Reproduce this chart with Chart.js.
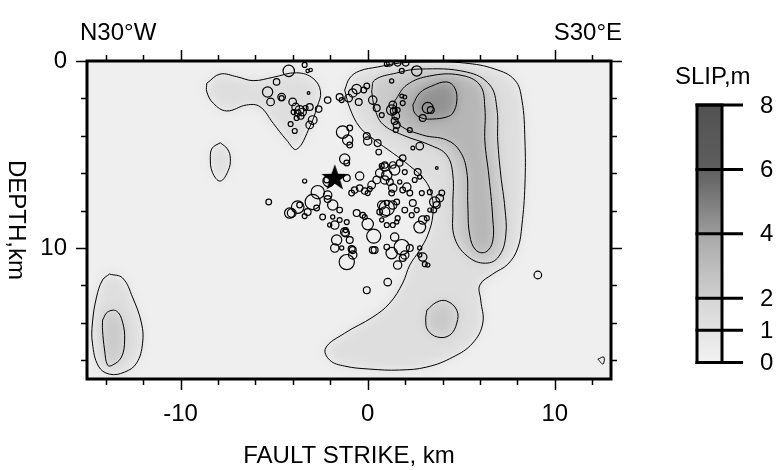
<!DOCTYPE html>
<html>
<head>
<meta charset="utf-8">
<script src="https://cdn.jsdelivr.net/npm/chart.js@4.4.1/dist/chart.umd.min.js"></script>
<style>
  html, body { margin: 0; padding: 0; background: #fff; }
  #wrap { width: 776px; height: 470px; }
</style>
</head>
<body>
<div id="wrap"><canvas id="slipChart" width="776" height="470"></canvas></div>
<script>
// =============================================
// Slip model + aftershocks along the fault plane
// =============================================

// axis ticks (km)
const xTicks = [-14, -12, -10, -8, -6, -4, -2, 0, 2, 4, 6, 8, 10, 12];
const xMajor = [-10, 0, 10];
const yTicks = [0, 2, 4, 6, 8, 10, 12, 14, 16];
const yMajor = [0, 10];

// colour bar (slip, m) and grey of each band at its low / high end
const cbTicks = [0, 1, 2, 4, 6, 8];
const cbLow = [242, 226, 208, 155, 94];
const cbHigh = [228, 214, 168, 96, 82];
const bgSlip = 0.2;

// slip contours: along strike (km), depth (km); level in m
const a1x = [-8.60, -7.89, -7.00, -6.12, -5.05, -3.80, -2.92, -2.52, -2.70, -3.09, -3.80, -4.34, -5.05, -5.76, -6.47, -7.54, -8.25, -8.60];
const a1z = [1.19, 0.70, 0.84, 1.05, 0.87, 0.63, 0.93, 1.64, 2.44, 3.51, 4.72, 4.22, 3.33, 2.44, 2.35, 2.67, 2.26, 1.64];

const b1x = [-7.88, -7.50, -7.34, -7.45, -7.88, -8.30, -8.41, -8.30];
const b1z = [4.37, 4.70, 5.20, 5.85, 6.42, 5.95, 5.12, 4.65];

const m1x = [-1.23, -0.96, -0.43, 0.53, 1.71, 3.32, 5.19, 6.79, 7.86, 8.24, 8.40, 8.40, 8.24, 8.02, 7.49, 6.68, 5.99, 6.04, 6.15, 5.61, 4.55, 3.16, 1.71, 0.11, -1.23, -2.03, -2.25, -1.23, 0.27, 1.18, 1.87, 2.25, 2.78, 3.21, 3.48, 3.42, 3.05, 2.25, 1.34, 0.37, -0.43, -0.96];
const m1z = [1.55, 0.91, 0.53, 0.32, 0.11, 0.05, 0.11, 0.43, 1.02, 2.09, 4.22, 6.63, 8.77, 10.00, 10.86, 11.39, 11.98, 12.78, 14.01, 15.08, 15.83, 16.36, 16.52, 16.47, 16.31, 15.99, 15.35, 14.55, 13.69, 12.94, 11.87, 10.91, 10.11, 9.30, 8.24, 7.17, 6.36, 5.61, 4.92, 4.22, 3.53, 2.51];

const m2x = [0.21, 0.37, 1.55, 2.78, 5.29, 6.52, 6.90, 6.95, 7.11, 7.33, 7.38, 7.06, 6.42, 5.45, 4.65, 4.55, 4.55, 4.22, 3.32, 1.87, 0.80, 0.37];
const m2z = [1.60, 1.02, 0.64, 0.43, 0.59, 1.28, 2.51, 4.28, 6.10, 7.86, 9.30, 10.37, 10.80, 10.53, 9.47, 7.86, 6.10, 5.03, 4.49, 3.96, 3.37, 2.51];

const m3x = [1.44, 2.09, 3.32, 4.92, 5.99, 6.26, 6.26, 6.47, 6.68, 6.68, 6.31, 5.78, 5.45, 5.35, 5.29, 4.92, 4.22, 2.94, 1.71, 1.34];
const m3z = [2.14, 1.28, 0.80, 0.75, 1.28, 2.51, 4.28, 6.10, 8.40, 9.63, 10.21, 10.11, 9.30, 7.70, 5.88, 4.81, 4.22, 3.96, 3.42, 2.67];

const m4x = [2.41, 2.78, 3.42, 4.22, 4.65, 4.76, 4.55, 4.22, 3.48, 2.89, 2.51];
const m4z = [2.35, 1.71, 1.34, 1.12, 1.44, 2.14, 2.78, 2.99, 3.10, 3.05, 2.78];

const c2x = [3.16, 3.69, 4.22, 4.76, 4.76, 4.39, 3.74, 3.21, 3.10];
const c2z = [13.32, 12.89, 12.83, 13.32, 14.01, 14.65, 14.76, 14.39, 13.85];

const d1x = [-13.80, -13.10, -12.57, -12.09, -12.03, -12.35, -12.99, -13.80, -14.39, -14.71, -14.71, -14.49, -14.17];
const d1z = [11.39, 11.60, 12.62, 14.01, 15.08, 16.15, 16.63, 16.74, 16.31, 15.08, 14.01, 12.62, 11.71];

const d2x = [-14.17, -13.90, -13.42, -13.10, -12.99, -13.16, -13.64, -13.90, -14.06, -14.17];
const d2z = [13.85, 13.42, 13.37, 13.96, 14.92, 15.83, 16.26, 16.26, 15.45, 14.39];

const f1x = [12.30, 12.62, 12.57];
const f1z = [15.94, 15.83, 16.20];

// mainshock
const mainX = [-1.76];
const mainZ = [6.20];

// aftershocks: along strike (km), depth (km), magnitude
const eqX = [
  -4.22, -3.37, -3.21, -3.05, -4.87, -5.35, -5.19, -4.60, -4.60, -4.01,
  -3.16, -3.85, -3.64, -3.74, -3.48, -3.96, -3.58, -3.32, -3.80, -3.10,
  -2.62, -2.94, -3.10, -4.12, -3.90, -2.14, -1.50, -1.39, -1.02, -0.80,
  -0.59, -0.21, -0.05, -0.48, 0.27, 0.48, 0.75, -1.34, -0.96, -1.07,
  -0.96, -0.05, 0.00, 0.53, 0.59, -1.23, -1.12, 1.02, 1.18, 1.60,
  2.03, 1.82, 2.62, 1.28, 1.34, 1.39, 1.60, 1.87, 1.82, 1.98,
  1.50, 1.44, 1.55, 1.50, 2.25, 3.21, 3.37, 2.94, 2.78, 2.41,
  1.87, 1.71, 1.34, 0.91, 0.75, 1.28, -0.43, -1.12, -3.37, -2.19,
  -2.09, -2.67, -2.94, -2.14, -2.14, -1.87, -1.50, -3.21, -3.74, -4.06,
  -3.64, -2.73, -3.37, -2.41, -1.87, -1.50, -1.12, -1.76, -2.03, -1.23,
  -0.96, -1.66, -1.76, -1.39, -0.86, -0.80, -0.59, -0.86, -0.70, -0.43,
  -0.16, 0.11, 0.21, 0.00, 0.00, -0.16, 0.32, 0.27, 0.75, 0.64,
  1.02, 0.48, 0.64, 0.91, 0.91, 1.44, 1.02, 1.18, 1.98, 2.67,
  2.78, 3.69, 2.51, 1.71, 2.09, 1.87, 1.34, 1.28, 2.25, 2.89,
  3.32, 3.96, 3.85, 3.58, 3.69, 3.53, 3.32, 1.02, 0.91, 1.34,
  1.55, 2.41, 2.62, 1.98, 2.35, 1.60, 1.02, 1.34, 1.55, 0.75,
  2.94, 3.16, 2.78, 1.44, 2.78, 1.28, 1.98, 1.87, 1.02, 2.94,
  1.60, 3.21, 1.82, 2.25, -1.12, -0.80, 1.07, -0.05, 9.09, -5.29,
  -4.17, -1.18, 0.37, -1.18, -0.27, 3.05, 2.78
];
const eqZ = [
  0.53, 0.21, 0.53, 0.48, 1.12, 1.66, 2.19, 1.93, 1.98, 2.19,
  1.71, 2.46, 2.62, 2.78, 2.73, 2.73, 2.94, 2.51, 3.05, 2.46,
  2.57, 3.16, 3.42, 3.37, 3.74, 2.09, 1.93, 2.09, 1.98, 1.71,
  1.50, 1.55, 1.34, 2.19, 2.09, 2.51, 2.89, 3.80, 3.58, 4.22,
  4.49, 4.01, 4.28, 4.39, 4.87, 5.24, 5.45, 0.16, 0.10, 0.10,
  0.10, 0.53, 0.53, 1.07, 2.35, 2.67, 2.62, 2.25, 1.87, 1.93,
  2.94, 3.21, 3.42, 3.69, 3.69, 2.51, 2.62, 3.05, 4.55, 4.65,
  5.19, 5.45, 5.56, 5.56, 5.61, 2.62, 6.15, 6.26, 6.42, 6.36,
  6.42, 7.01, 7.54, 7.17, 7.38, 7.70, 7.97, 8.07, 7.81, 8.13,
  7.70, 7.86, 8.29, 8.34, 8.34, 8.50, 8.61, 8.77, 8.77, 9.14,
  9.57, 9.57, 10.00, 10.00, 10.05, 10.37, 8.13, 7.06, 6.90, 6.79,
  6.95, 6.84, 6.63, 7.06, 8.72, 8.34, 9.36, 10.11, 7.70, 8.07,
  7.59, 6.36, 5.99, 5.67, 6.36, 5.83, 6.10, 6.47, 5.94, 5.94,
  6.20, 5.72, 6.36, 6.47, 6.74, 6.90, 6.79, 7.06, 7.06, 7.06,
  7.01, 7.06, 7.33, 7.54, 7.70, 7.97, 7.97, 7.86, 8.07, 7.70,
  7.54, 7.59, 7.97, 7.97, 8.24, 8.40, 8.77, 8.77, 8.61, 8.50,
  8.50, 8.40, 8.88, 9.41, 10.00, 10.27, 10.37, 10.53, 9.95, 10.48,
  10.91, 10.91, 9.95, 10.00, 10.75, 10.11, 11.82, 12.25, 11.44, 7.54,
  8.13, 9.20, 10.11, 9.04, 8.24, 10.86, 10.37
];
const eqMag = [
  3.0, 1.3, 0.9, 0.9, 1.7, 2.7, 2.0, 2.0, 1.3, 2.0,
  0.7, 2.0, 2.3, 1.7, 2.0, 1.3, 1.7, 1.3, 1.3, 1.8,
  1.7, 2.3, 2.0, 1.3, 1.3, 1.7, 1.8, 1.3, 2.0, 2.2,
  2.5, 1.5, 1.5, 1.8, 2.2, 1.8, 1.3, 3.3, 1.5, 2.7,
  1.5, 1.8, 2.2, 1.8, 1.5, 2.7, 1.5, 1.3, 1.7, 1.7,
  1.7, 1.3, 2.7, 1.1, 2.0, 1.8, 1.3, 1.3, 1.0, 1.0,
  2.0, 1.8, 1.8, 1.3, 1.3, 2.9, 1.8, 1.8, 2.0, 1.0,
  1.7, 1.7, 1.7, 1.7, 1.3, 2.7, 2.2, 1.8, 1.1, 1.5,
  3.0, 3.5, 4.0, 2.2, 1.8, 2.7, 1.5, 1.8, 3.3, 2.3,
  1.5, 1.5, 1.3, 1.5, 1.1, 1.3, 1.3, 2.2, 1.1, 2.2,
  1.8, 2.7, 2.2, 1.1, 1.8, 2.2, 1.8, 1.5, 1.7, 1.7,
  1.7, 1.3, 2.0, 1.3, 3.0, 1.3, 3.7, 1.8, 2.2, 1.5,
  1.3, 2.0, 2.2, 2.2, 2.2, 2.7, 2.7, 1.8, 1.3, 1.8,
  1.1, 0.7, 1.3, 1.1, 2.2, 1.5, 2.2, 1.5, 1.5, 1.3,
  1.3, 1.5, 2.0, 2.7, 1.8, 1.5, 1.1, 4.0, 2.7, 2.2,
  1.5, 1.8, 1.3, 1.5, 1.3, 1.3, 1.3, 1.3, 1.1, 1.1,
  2.2, 1.3, 3.1, 2.2, 1.1, 3.0, 2.2, 1.8, 1.5, 2.2,
  2.2, 1.1, 4.0, 1.8, 4.0, 1.8, 2.0, 1.8, 2.0, 1.5,
  2.7, 2.0, 1.8, 1.3, 1.5, 1.3, 1.1
];

const FONT = "'Liberation Sans', Arial, Helvetica, sans-serif";

const contourList = [
  { x: a1x, z: a1z, level: 1 },
  { x: b1x, z: b1z, level: 1 },
  { x: m1x, z: m1z, level: 1 },
  { x: d1x, z: d1z, level: 1 },
  { x: f1x, z: f1z, level: 1 },
  { x: m2x, z: m2z, level: 2 },
  { x: c2x, z: c2z, level: 2 },
  { x: d2x, z: d2z, level: 2 },
  { x: m3x, z: m3z, level: 3 },
  { x: m4x, z: m4z, level: 4 }
];

function slipGray(v) {
  const n = cbTicks.length - 1;
  for (let i = 0; i < n; i++) {
    if (v <= cbTicks[i + 1] || i === n - 1) {
      let t = (v - cbTicks[i]) / (cbTicks[i + 1] - cbTicks[i]);
      t = Math.max(0, Math.min(1, t));
      const g = Math.round(cbLow[i] + (cbHigh[i] - cbLow[i]) * t);
      return 'rgb(' + g + ',' + g + ',' + g + ')';
    }
  }
}

function closedPoints(xs, zs) {
  const pts = xs.map((v, i) => ({ x: v, y: zs[i] }));
  pts.push({ x: xs[0], y: zs[0] });
  return pts;
}

// filled star used as the mainshock symbol
function makeStar(r) {
  const c = document.createElement('canvas');
  c.width = c.height = Math.ceil(r * 2 + 2);
  const g = c.getContext('2d');
  const cx = c.width / 2, cy = c.height / 2 + r * 0.09;
  g.beginPath();
  for (let i = 0; i < 10; i++) {
    const rr = i % 2 ? r * 0.4 : r;
    const ang = -Math.PI / 2 + i * Math.PI / 5;
    const px = cx + rr * Math.cos(ang), py = cy + rr * Math.sin(ang);
    i ? g.lineTo(px, py) : g.moveTo(px, py);
  }
  g.closePath();
  g.fillStyle = '#000';
  g.fill();
  return c;
}

// grey slip field: contour polygons filled by level, then blurred
const slipField = {
  id: 'slipField',
  beforeDatasetsDraw(chart) {
    const { ctx, chartArea: a, scales: { x, y } } = chart;
    const off = document.createElement('canvas');
    off.width = chart.width;
    off.height = chart.height;
    const o = off.getContext('2d');
    o.fillStyle = slipGray(bgSlip);
    o.fillRect(0, 0, off.width, off.height);
    contourList.slice().sort((p, q) => p.level - q.level).forEach(c => {
      o.beginPath();
      c.x.forEach((v, i) => {
        const px = x.getPixelForValue(v), py = y.getPixelForValue(c.z[i]);
        i ? o.lineTo(px, py) : o.moveTo(px, py);
      });
      o.closePath();
      o.fillStyle = slipGray(c.level + 0.3);
      o.fill();
    });
    ctx.save();
    ctx.beginPath();
    ctx.rect(a.left, a.top, a.right - a.left, a.bottom - a.top);
    ctx.clip();
    ctx.filter = 'blur(6px)';
    ctx.drawImage(off, 0, 0);
    ctx.restore();
  }
};

// frame, tick marks, titles and the colour bar
const decorations = {
  id: 'decorations',
  afterDraw(chart) {
    const { ctx, chartArea: a, scales: { x, y } } = chart;
    ctx.save();
    ctx.strokeStyle = '#000';
    ctx.lineWidth = 1.5;
    ctx.beginPath();
    xTicks.forEach(v => {
      const px = Math.round(x.getPixelForValue(v)) + 0.5;
      const len = xMajor.includes(v) ? 11 : 6;
      ctx.moveTo(px, a.bottom); ctx.lineTo(px, a.bottom + len);
      ctx.moveTo(px, a.top); ctx.lineTo(px, a.top - len);
    });
    yTicks.forEach(v => {
      const py = Math.round(y.getPixelForValue(v)) + 0.5;
      const len = yMajor.includes(v) ? 11 : 6;
      ctx.moveTo(a.left, py); ctx.lineTo(a.left - len, py);
      ctx.moveTo(a.right, py); ctx.lineTo(a.right + len, py);
    });
    ctx.stroke();
    ctx.lineWidth = 3;
    ctx.strokeRect(a.left, a.top, a.right - a.left, a.bottom - a.top);

    ctx.fillStyle = '#000';
    ctx.font = '24px ' + FONT;
    ctx.textBaseline = 'alphabetic';
    ctx.textAlign = 'left';
    ctx.fillText('N30°W', 80, 40);
    ctx.textAlign = 'right';
    ctx.fillText('S30°E', 622, 40);
    ctx.textAlign = 'center';
    ctx.fillText('FAULT STRIKE, km', (a.left + a.right) / 2, 463);
    ctx.save();
    ctx.translate(16, (a.top + a.bottom) / 2);
    ctx.rotate(Math.PI / 2);
    ctx.textBaseline = 'middle';
    ctx.fillText('DEPTH,km', 0, 0);
    ctx.restore();

    // colour bar
    const bx0 = 697, bx1 = 722, by0 = 362.5, by1 = 105;
    const cy = v => by0 + (by1 - by0) * v / cbTicks[cbTicks.length - 1];
    for (let i = 0; i < cbTicks.length - 1; i++) {
      const yl = cy(cbTicks[i]), yh = cy(cbTicks[i + 1]);
      const grad = ctx.createLinearGradient(0, yl, 0, yh);
      grad.addColorStop(0, slipGray(cbTicks[i] + 1e-6));
      grad.addColorStop(1, slipGray(cbTicks[i + 1] - 1e-6));
      ctx.fillStyle = grad;
      ctx.fillRect(bx0, yh, bx1 - bx0, yl - yh);
    }
    ctx.lineWidth = 3;
    ctx.strokeRect(bx0, by1, bx1 - bx0, by0 - by1);
    ctx.beginPath();
    cbTicks.forEach(v => {
      ctx.moveTo(bx0 - 1.5, cy(v));
      ctx.lineTo(743, cy(v));
    });
    ctx.stroke();
    ctx.fillStyle = '#000';
    ctx.textAlign = 'left';
    ctx.textBaseline = 'middle';
    cbTicks.forEach(v => ctx.fillText(String(v), 760, cy(v) + 1));
    ctx.textBaseline = 'alphabetic';
    ctx.fillText('SLIP,m', 675, 84);
    ctx.restore();
  }
};

const contourDatasets = contourList.map(c => ({
  data: closedPoints(c.x, c.z),
  showLine: true,
  borderColor: '#000',
  borderWidth: 1,
  backgroundColor: 'transparent',
  pointRadius: 0,
  pointHoverRadius: 0,
  tension: 0.4,
  fill: false
}));

const ctx = document.getElementById('slipChart').getContext('2d');
const chart = new Chart(ctx, {
  type: 'scatter',
  data: {
    datasets: [
      {
        data: mainX.map((v, i) => ({ x: v, y: mainZ[i] })),
        pointStyle: makeStar(14),
        pointRadius: 14
      },
      {
        data: eqX.map((v, i) => ({ x: v, y: eqZ[i] })),
        pointRadius: c => 1.9 * eqMag[c.dataIndex],
        pointBackgroundColor: 'rgba(0,0,0,0)',
        pointBorderColor: '#000',
        pointBorderWidth: 1.2
      },
      ...contourDatasets
    ]
  },
  options: {
    responsive: false,
    animation: false,
    devicePixelRatio: 1,
    layout: { padding: { left: 0, top: 61, right: 165, bottom: 0 } },
    plugins: { legend: { display: false }, tooltip: { enabled: false } },
    scales: {
      x: {
        type: 'linear',
        min: -15,
        max: 13,
        afterFit: s => { s.height = 91; },
        afterBuildTicks: s => { s.ticks = xMajor.map(v => ({ value: v })); },
        grid: { display: false, drawTicks: false },
        border: { display: false },
        ticks: { color: '#000', font: { family: FONT, size: 24 }, padding: 21, maxRotation: 0, minRotation: 0 }
      },
      y: {
        type: 'linear',
        reverse: true,
        min: 0,
        max: 17,
        afterFit: s => { s.width = 87; },
        afterBuildTicks: s => { s.ticks = yMajor.map(v => ({ value: v })); },
        grid: { display: false, drawTicks: false },
        border: { display: false },
        ticks: { color: '#000', font: { family: FONT, size: 24 }, padding: 20 }
      }
    }
  },
  plugins: [slipField, decorations]
});
</script>
</body>
</html>
